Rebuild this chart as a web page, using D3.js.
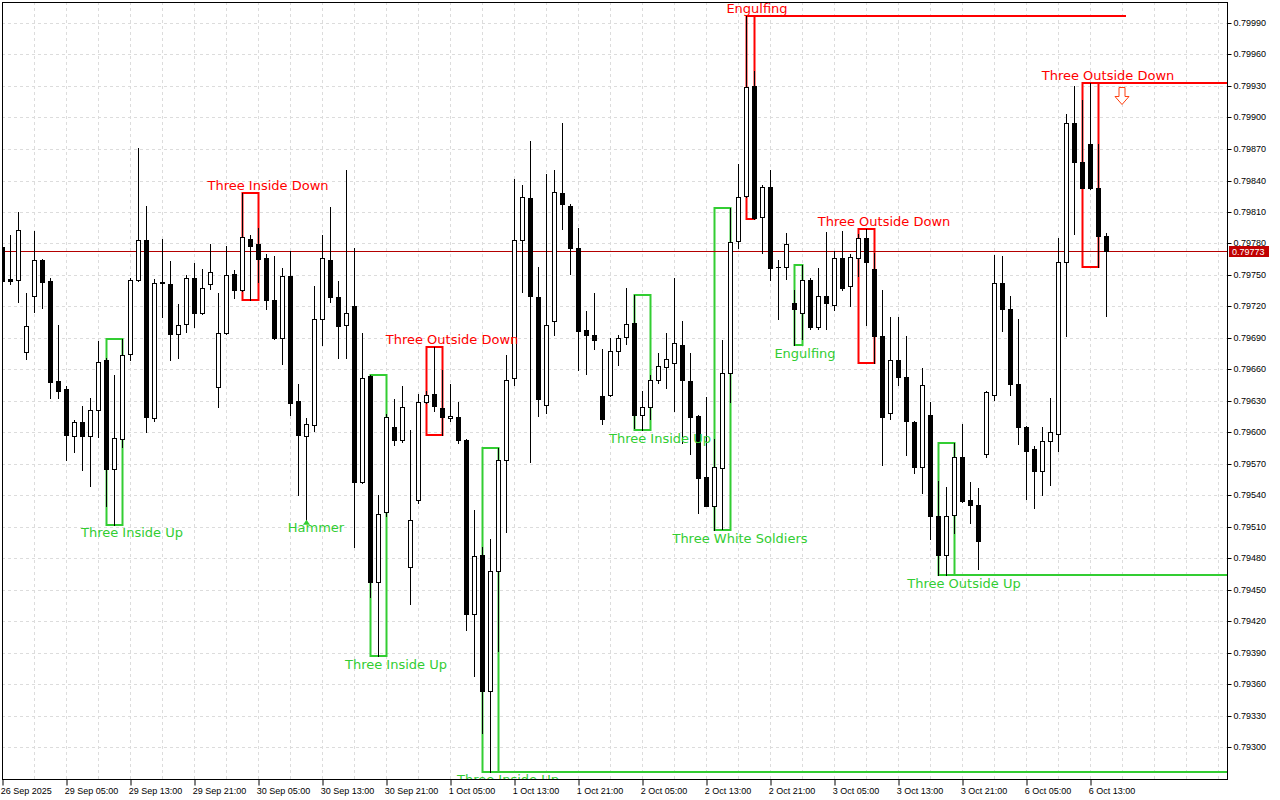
<!DOCTYPE html>
<html>
<head>
<meta charset="utf-8">
<script src="https://cdn.jsdelivr.net/npm/d3@7"></script>
<style>
  html, body { margin: 0; padding: 0; background: #fff; }
  svg { display: block; }
  .axis text { font-family: "Liberation Sans", Arial, sans-serif; font-size: 9px; fill: #000; }
  .plabel { font-family: "DejaVu Sans", Verdana, sans-serif; font-size: 13px; }
</style>
</head>
<body>
<div id="chart"></div>
<script>
// H1 candles
const open = [
  0.79777, 0.79746, 0.79745, 0.79677, 0.79730, 0.79764, 0.79744, 0.79649, 0.79641, 0.79597,
  0.79610, 0.79597, 0.79621, 0.79669, 0.79565, 0.79594, 0.79675, 0.79745, 0.79783, 0.79614,
  0.79743, 0.79741, 0.79694, 0.79703, 0.79747, 0.79714, 0.79741, 0.79643, 0.79695, 0.79751,
  0.79736, 0.79784, 0.79780, 0.79766, 0.79726, 0.79690, 0.79749, 0.79630, 0.79597, 0.79607,
  0.79708, 0.79764, 0.79729, 0.79702, 0.79720, 0.79553, 0.79654, 0.79458, 0.79524, 0.79605,
  0.79593, 0.79472, 0.79536, 0.79629, 0.79637, 0.79623, 0.79614, 0.79615, 0.79593, 0.79427,
  0.79483, 0.79354, 0.79468, 0.79574, 0.79652, 0.79783, 0.79823, 0.79729, 0.79626, 0.79706,
  0.79828, 0.79816, 0.79776, 0.79698, 0.79693, 0.79635, 0.79636, 0.79678, 0.79691, 0.79704,
  0.79617, 0.79624, 0.79650, 0.79662, 0.79666, 0.79683, 0.79649, 0.79616, 0.79558, 0.79530,
  0.79566, 0.79657, 0.79782, 0.79825, 0.79930, 0.79805, 0.79834, 0.79758, 0.79758, 0.79723,
  0.79714, 0.79745, 0.79700, 0.79730, 0.79721, 0.79766, 0.79740, 0.79766, 0.79785, 0.79756,
  0.79692, 0.79619, 0.79669, 0.79653, 0.79610, 0.79567, 0.79617, 0.79520, 0.79483, 0.79521,
  0.79577, 0.79536, 0.79531, 0.79580, 0.79636, 0.79742, 0.79718, 0.79646, 0.79605, 0.79584,
  0.79563, 0.79592, 0.79599, 0.79762, 0.79895, 0.79858, 0.79875, 0.79833, 0.79787
];
const high = [
  0.79785, 0.79788, 0.79810, 0.79733, 0.79792, 0.79765, 0.79747, 0.79702, 0.79644, 0.79612,
  0.79625, 0.79633, 0.79687, 0.79671, 0.79655, 0.79689, 0.79747, 0.79871, 0.79816, 0.79746,
  0.79784, 0.79763, 0.79722, 0.79750, 0.79761, 0.79756, 0.79780, 0.79733, 0.79778, 0.79755,
  0.79828, 0.79788, 0.79795, 0.79770, 0.79768, 0.79757, 0.79773, 0.79646, 0.79614, 0.79740,
  0.79788, 0.79815, 0.79744, 0.79850, 0.79776, 0.79695, 0.79655, 0.79540, 0.79618, 0.79632,
  0.79644, 0.79602, 0.79637, 0.79640, 0.79681, 0.79660, 0.79646, 0.79629, 0.79594, 0.79526,
  0.79491, 0.79499, 0.79585, 0.79674, 0.79841, 0.79836, 0.79878, 0.79758, 0.79846, 0.79850,
  0.79895, 0.79818, 0.79795, 0.79716, 0.79733, 0.79680, 0.79690, 0.79693, 0.79738, 0.79731,
  0.79640, 0.79655, 0.79676, 0.79695, 0.79747, 0.79706, 0.79676, 0.79617, 0.79634, 0.79594,
  0.79688, 0.79814, 0.79856, 0.79997, 0.79944, 0.79836, 0.79850, 0.79764, 0.79790, 0.79736,
  0.79760, 0.79747, 0.79757, 0.79791, 0.79773, 0.79792, 0.79770, 0.79789, 0.79794, 0.79771,
  0.79736, 0.79710, 0.79710, 0.79692, 0.79611, 0.79661, 0.79629, 0.79554, 0.79548, 0.79590,
  0.79608, 0.79553, 0.79547, 0.79640, 0.79769, 0.79768, 0.79730, 0.79708, 0.79606, 0.79587,
  0.79605, 0.79633, 0.79785, 0.79903, 0.79930, 0.79917, 0.79933, 0.79875, 0.79790
];
const low = [
  0.79740, 0.79741, 0.79724, 0.79670, 0.79715, 0.79719, 0.79633, 0.79633, 0.79574, 0.79581,
  0.79564, 0.79549, 0.79596, 0.79530, 0.79512, 0.79586, 0.79669, 0.79744, 0.79600, 0.79611,
  0.79710, 0.79669, 0.79671, 0.79696, 0.79700, 0.79713, 0.79737, 0.79624, 0.79694, 0.79728,
  0.79735, 0.79726, 0.79743, 0.79718, 0.79689, 0.79665, 0.79617, 0.79540, 0.79514, 0.79601,
  0.79683, 0.79724, 0.79671, 0.79671, 0.79491, 0.79552, 0.79443, 0.79387, 0.79520, 0.79588,
  0.79591, 0.79437, 0.79533, 0.79628, 0.79620, 0.79598, 0.79611, 0.79590, 0.79412, 0.79368,
  0.79314, 0.79277, 0.79392, 0.79505, 0.79645, 0.79734, 0.79572, 0.79616, 0.79619, 0.79693,
  0.79794, 0.79751, 0.79660, 0.79656, 0.79680, 0.79608, 0.79635, 0.79664, 0.79684, 0.79604,
  0.79602, 0.79613, 0.79647, 0.79642, 0.79620, 0.79590, 0.79580, 0.79523, 0.79530, 0.79507,
  0.79508, 0.79629, 0.79776, 0.79824, 0.79803, 0.79771, 0.79745, 0.79708, 0.79746, 0.79683,
  0.79689, 0.79699, 0.79699, 0.79699, 0.79717, 0.79736, 0.79720, 0.79749, 0.79702, 0.79666,
  0.79569, 0.79613, 0.79645, 0.79579, 0.79561, 0.79542, 0.79499, 0.79464, 0.79464, 0.79504,
  0.79534, 0.79514, 0.79470, 0.79577, 0.79631, 0.79697, 0.79636, 0.79589, 0.79537, 0.79528,
  0.79540, 0.79550, 0.79582, 0.79692, 0.79789, 0.79835, 0.79832, 0.79758, 0.79711
];
const close = [
  0.79744, 0.79744, 0.79793, 0.79701, 0.79764, 0.79743, 0.79648, 0.79640, 0.79598, 0.79610,
  0.79597, 0.79621, 0.79667, 0.79565, 0.79595, 0.79674, 0.79745, 0.79783, 0.79615, 0.79742,
  0.79742, 0.79694, 0.79702, 0.79747, 0.79714, 0.79738, 0.79753, 0.79695, 0.79750, 0.79736,
  0.79786, 0.79778, 0.79765, 0.79726, 0.79690, 0.79749, 0.79628, 0.79598, 0.79608, 0.79708,
  0.79766, 0.79729, 0.79701, 0.79714, 0.79553, 0.79652, 0.79458, 0.79522, 0.79615, 0.79593,
  0.79624, 0.79517, 0.79629, 0.79636, 0.79625, 0.79615, 0.79616, 0.79593, 0.79427, 0.79482,
  0.79354, 0.79468, 0.79574, 0.79650, 0.79783, 0.79824, 0.79730, 0.79632, 0.79702, 0.79829,
  0.79818, 0.79776, 0.79697, 0.79693, 0.79688, 0.79613, 0.79678, 0.79690, 0.79703, 0.79617,
  0.79624, 0.79650, 0.79663, 0.79670, 0.79685, 0.79650, 0.79615, 0.79557, 0.79530, 0.79567,
  0.79657, 0.79781, 0.79824, 0.79929, 0.79804, 0.79834, 0.79757, 0.79758, 0.79780, 0.79718,
  0.79745, 0.79700, 0.79730, 0.79723, 0.79766, 0.79738, 0.79767, 0.79785, 0.79762, 0.79692,
  0.79615, 0.79669, 0.79653, 0.79611, 0.79567, 0.79645, 0.79520, 0.79483, 0.79520, 0.79577,
  0.79535, 0.79531, 0.79497, 0.79639, 0.79742, 0.79718, 0.79646, 0.79605, 0.79582, 0.79563,
  0.79592, 0.79600, 0.79762, 0.79895, 0.79858, 0.79833, 0.79833, 0.79787, 0.79773
];

// time axis labels, one every 8 bars
const timeLabels = [
  '26 Sep 2025', '29 Sep 05:00', '29 Sep 13:00', '29 Sep 21:00', '30 Sep 05:00', '30 Sep 13:00',
  '30 Sep 21:00', '1 Oct 05:00', '1 Oct 13:00', '1 Oct 21:00', '2 Oct 05:00', '2 Oct 13:00',
  '2 Oct 21:00', '3 Oct 05:00', '3 Oct 13:00', '3 Oct 21:00', '6 Oct 05:00', '6 Oct 13:00'
];
const priceTicks = d3.range(24).map(i => 0.79300 + i * 0.0003);
const lastPrice = 0.79773;

// candlestick patterns: name, first bar, last bar, direction, level line end (bar index or 'edge')
const patternNames = ['Three Inside Up', 'Three Inside Down', 'Hammer', 'Three Inside Up', 'Three Outside Down',
  'Three Inside Up', 'Three Inside Up', 'Three White Soldiers', 'Engulfing', 'Engulfing',
  'Three Outside Down', 'Three Outside Up', 'Three Outside Down'];
const patternFirst = [13, 30, 38, 46, 53, 60, 79, 89, 93, 99, 107, 117, 135];
const patternLast  = [15, 32, 38, 48, 55, 62, 81, 91, 94, 100, 109, 119, 137];
const patternBull  = [true, false, true, true, false, true, true, true, false, true, false, true, false];
const patternLevelEnd = [null, null, null, null, null, 'edge', null, null, 140.5, null, null, 'edge', 'edge'];

const colors = { bull: '#32cd32', bear: '#ff0000', grid: '#dcdcdc', price: '#b40000' };

const width = 1280, height = 800;
const plot = { left: 2, top: 2, right: 1228, bottom: 779 };

const svg = d3.select('#chart').append('svg')
    .attr('width', width)
    .attr('height', height);

const x = d3.scaleLinear().domain([0, 1]).range([2, 10]);
const y = d3.scaleLinear().domain([0.79270, 0.80010]).range([plot.bottom, plot.top]);
const px = v => Math.round(x(v)) + 0.5;
const py = v => Math.round(y(v)) + 0.5;

svg.append('defs').append('clipPath').attr('id', 'clip')
    .append('rect')
    .attr('x', plot.left).attr('y', plot.top)
    .attr('width', plot.right - plot.left).attr('height', plot.bottom - plot.top);

const g = svg.append('g').attr('clip-path', 'url(#clip)');

// grid
const gridX = d3.range(4, 156, 4);
g.selectAll('.gx').data(gridX).enter().append('line')
    .attr('x1', d => px(d)).attr('x2', d => px(d))
    .attr('y1', plot.top).attr('y2', plot.bottom)
    .attr('stroke', colors.grid).attr('stroke-dasharray', '3,3');
g.selectAll('.gy').data(priceTicks).enter().append('line')
    .attr('x1', plot.left).attr('x2', plot.right)
    .attr('y1', d => py(d)).attr('y2', d => py(d))
    .attr('stroke', colors.grid).attr('stroke-dasharray', '3,3');

// pattern boxes
const patterns = patternNames.map((name, i) => {
    const idx = d3.range(patternFirst[i], patternLast[i] + 1);
    return {
        name: name, first: patternFirst[i], last: patternLast[i], bull: patternBull[i],
        levelEnd: patternLevelEnd[i],
        hi: d3.max(idx, k => high[k]), lo: d3.min(idx, k => low[k])
    };
});

patterns.filter(p => p.first !== p.last).forEach(p => {
    const c = p.bull ? colors.bull : colors.bear;
    g.append('rect')
        .attr('x', px(p.first)).attr('y', Math.round(y(p.hi)))
        .attr('width', px(p.last) - px(p.first))
        .attr('height', Math.round(y(p.lo)) - Math.round(y(p.hi)))
        .attr('fill', 'none').attr('stroke', c).attr('stroke-width', 2);
    if (p.levelEnd !== null) {
        const lv = p.bull ? p.lo : p.hi;
        g.append('line')
            .attr('x1', px(p.last)).attr('x2', p.levelEnd === 'edge' ? plot.right : x(p.levelEnd))
            .attr('y1', Math.round(y(lv))).attr('y2', Math.round(y(lv)))
            .attr('stroke', c).attr('stroke-width', 2);
    }
});

// last price line
g.append('line')
    .attr('x1', plot.left).attr('x2', plot.right)
    .attr('y1', py(lastPrice)).attr('y2', py(lastPrice))
    .attr('stroke', colors.price).attr('stroke-width', 1);

// candles
const bars = d3.range(open.length);
g.selectAll('.wick').data(bars).enter().append('line')
    .attr('x1', d => px(d)).attr('x2', d => px(d))
    .attr('y1', d => py(high[d]) - 0.5).attr('y2', d => py(low[d]) + 0.5)
    .attr('stroke', '#000').attr('stroke-width', 1);
g.selectAll('.body').data(bars).enter().append('rect')
    .attr('x', d => px(d) - 2)
    .attr('y', d => py(Math.max(open[d], close[d])))
    .attr('width', 4)
    .attr('height', d => Math.max(py(Math.min(open[d], close[d])) - py(Math.max(open[d], close[d])), 0.01))
    .attr('fill', d => close[d] >= open[d] ? '#fff' : '#000')
    .attr('stroke', '#000').attr('stroke-width', 1);

// pattern labels
const labelDx = { 1: 10, 2: 7, 3: 18 };
patterns.forEach(p => {
    const c = p.bull ? colors.bull : colors.bear;
    const n = p.last - p.first + 1;
    const cx = (x(p.first) + x(p.last)) / 2 + labelDx[n];
    let cy;
    if (n === 1) {
        const ly = y(p.lo);
        g.append('path')
            .attr('d', `M${px(p.first)},${ly - 3} L${px(p.first) + 3.5},${ly + 2} L${px(p.first) - 3.5},${ly + 2} Z`)
            .attr('fill', c);
        cy = ly + 4.5;
    } else {
        cy = p.bull ? y(p.lo) + 8 : y(p.hi) - 7.5;
    }
    g.append('text')
        .attr('class', 'plabel')
        .attr('x', cx).attr('y', cy)
        .attr('text-anchor', 'middle')
        .attr('dominant-baseline', 'central')
        .attr('fill', c)
        .text(p.name);
});

// sell arrow after the last pattern
const lastP = patterns[patterns.length - 1];
const ax = px(lastP.last + 3) - 0.5, ay = Math.round(y(lastP.hi)) + 4.5;
g.append('path')
    .attr('d', `M${ax - 3},${ay} H${ax + 3} V${ay + 9} H${ax + 7} L${ax},${ay + 17} L${ax - 7},${ay + 9} H${ax - 3} Z`)
    .attr('fill', '#fff').attr('stroke', '#ff4010').attr('stroke-width', 1);

// frame
svg.append('rect')
    .attr('x', plot.left + 0.5).attr('y', plot.top + 0.5)
    .attr('width', plot.right - plot.left - 1).attr('height', plot.bottom - plot.top)
    .attr('fill', 'none').attr('stroke', '#000');

// axes
const xTicks = timeLabels.map((t, i) => i * 8);
const xAxis = svg.append('g')
    .attr('class', 'axis')
    .attr('transform', `translate(0,${plot.bottom + 0.5})`)
    .call(d3.axisBottom(x).tickValues(xTicks).tickFormat((d, i) => timeLabels[i]).tickSize(6).tickSizeOuter(0));
xAxis.select('.domain').remove();
xAxis.selectAll('.tick line').attr('transform', 'translate(0.5,0)');
xAxis.selectAll('.tick text').attr('text-anchor', 'start').attr('dx', '-0.2em').attr('y', 8);

const yAxis = svg.append('g')
    .attr('class', 'axis')
    .attr('transform', `translate(${plot.right - 0.5},0)`)
    .call(d3.axisRight(y).tickValues(priceTicks).tickFormat(d3.format('.5f')).tickSize(4).tickPadding(2));
yAxis.select('.domain').remove();
yAxis.selectAll('.tick').attr('transform', d => `translate(0,${py(d)})`);

// last price tag
const tag = svg.append('g').attr('transform', `translate(${plot.right + 1},${py(lastPrice)})`);
tag.append('rect')
    .attr('x', 0).attr('y', -5.5).attr('width', 40).attr('height', 11)
    .attr('fill', '#c00000');
tag.append('text')
    .attr('x', 3).attr('y', 0)
    .attr('dominant-baseline', 'central')
    .style('font-family', '"Liberation Sans", Arial, sans-serif')
    .style('font-size', '9px')
    .attr('fill', '#fff')
    .text(d3.format('.5f')(lastPrice));
</script>
</body>
</html>
